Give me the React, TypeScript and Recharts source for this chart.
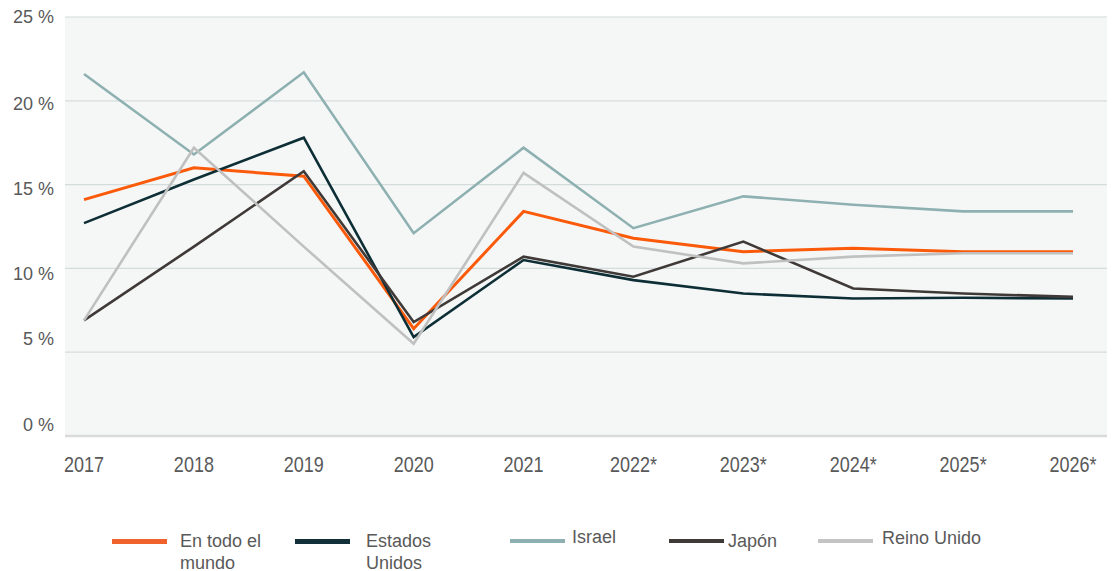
import React from 'react';
import { LineChart, Line, XAxis, YAxis, CartesianGrid } from 'recharts';

const categories = ['2017', '2018', '2019', '2020', '2021', '2022*', '2023*', '2024*', '2025*', '2026*'];
const mundo = [14.1, 16.0, 15.5, 6.4, 13.4, 11.8, 11.0, 11.2, 11.0, 11.0];
const estadosUnidos = [12.7, 15.3, 17.8, 5.9, 10.5, 9.3, 8.5, 8.2, 8.25, 8.2];
const israel = [21.6, 16.8, 21.7, 12.1, 17.2, 12.4, 14.3, 13.8, 13.4, 13.4];
const japon = [6.9, 11.3, 15.8, 6.8, 10.7, 9.5, 11.6, 8.8, 8.5, 8.3];
const reinoUnido = [6.9, 17.2, 11.3, 5.5, 15.7, 11.3, 10.3, 10.7, 10.9, 10.9];
const yTicks = [0, 5, 10, 15, 20, 25];

const seriesNames = ['En todo el mundo', 'Estados Unidos', 'Israel', 'Japón', 'Reino Unido'];
const seriesKeys = ['mundo', 'eu', 'israel', 'japon', 'uk'];
const seriesValues = [mundo, estadosUnidos, israel, japon, reinoUnido];

const data = categories.map((c, i) => {
  const row: Record<string, string | number> = { year: c };
  seriesKeys.forEach((k, j) => {
    row[k] = seriesValues[j][i];
  });
  return row;
});

const styles = [
  { color: '#fa5a0a', width: 3, legendColor: '#f0612c', lines: ['En todo el', 'mundo'], sx: 112, tx: 180, ty: 530 },
  { color: '#0e2e36', width: 2.6, legendColor: '#12303a', lines: ['Estados', 'Unidos'], sx: 295, tx: 366, ty: 530 },
  { color: '#8eb0b0', width: 2.6, legendColor: '#8eb0b0', lines: ['Israel'], sx: 510, tx: 572, ty: 526 },
  { color: '#3f3a38', width: 2.6, legendColor: '#3f3a38', lines: ['Japón'], sx: 669, tx: 728, ty: 530 },
  { color: '#c0c0c0', width: 2.6, legendColor: '#c4c4c4', lines: ['Reino Unido'], sx: 818, tx: 882, ty: 527 },
];

// vertical nudge of the y tick labels, as drawn in the original
const yLabelNudge: Record<number, number> = { 0: -11, 5: -14, 10: 5, 15: 4, 20: 3, 25: 0 };

const FONT = '"Liberation Sans", Arial, sans-serif';
const TEXT = '#595959';

const XTick = (props: any) => {
  const { x, y, payload } = props;
  return (
    <g transform={`translate(${x},${y}) scale(1,1.2)`}>
      <text x={0} y={30} textAnchor="middle" fill={TEXT} fontSize={18} fontFamily={FONT}>
        {payload.value}
      </text>
    </g>
  );
};

const YTick = (props: any) => {
  const { x, y, payload } = props;
  const v = payload.value as number;
  return (
    <text
      x={x}
      y={y + (yLabelNudge[v] ?? 0)}
      dy="0.355em"
      textAnchor="end"
      fill={TEXT}
      fontSize={18}
      fontFamily={FONT}
    >
      {`${v} %`}
    </text>
  );
};

export default function App() {
  return (
    <div style={{ position: 'absolute', left: 0, top: 0, width: 1115, height: 571, background: '#fff', fontFamily: FONT }}>
      <LineChart
        width={1115}
        height={571}
        data={data}
        margin={{ top: 17, right: 8, bottom: 95, left: 5 }}
      >
        <CartesianGrid vertical={false} stroke="#d4dcdb" strokeWidth={1.2} fill="#f5f7f7" />
        <XAxis
          dataKey="year"
          tickLine={false}
          axisLine={{ stroke: '#dadada', strokeWidth: 2.5 }}
          tickSize={0}
          tickMargin={0}
          height={40}
          interval={0}
          padding={{ left: 19, right: 34 }}
          tick={<XTick />}
        />
        <YAxis
          domain={[0, 25]}
          ticks={yTicks}
          width={60}
          axisLine={false}
          tickLine={false}
          tickSize={0}
          tickMargin={11}
          tick={<YTick />}
        />
        {seriesKeys.map((k, i) => (
          <Line
            key={k}
            dataKey={k}
            name={seriesNames[i]}
            type="linear"
            stroke={styles[i].color}
            strokeWidth={styles[i].width}
            dot={false}
            activeDot={false}
            isAnimationActive={false}
          />
        ))}
      </LineChart>
      {styles.map((s, i) => (
        <div key={seriesKeys[i]}>
          <div
            style={{
              position: 'absolute',
              left: s.sx,
              top: 539,
              width: 55,
              height: i === 0 || i === 1 ? 5 : 3.5,
              background: s.legendColor,
            }}
          />
          <div
            style={{
              position: 'absolute',
              left: s.tx,
              top: s.ty,
              fontSize: 18,
              lineHeight: '22px',
              color: TEXT,
              fontFamily: FONT,
              whiteSpace: 'nowrap',
            }}
          >
            {s.lines.map((l) => (
              <div key={l}>{l}</div>
            ))}
          </div>
        </div>
      ))}
    </div>
  );
}
